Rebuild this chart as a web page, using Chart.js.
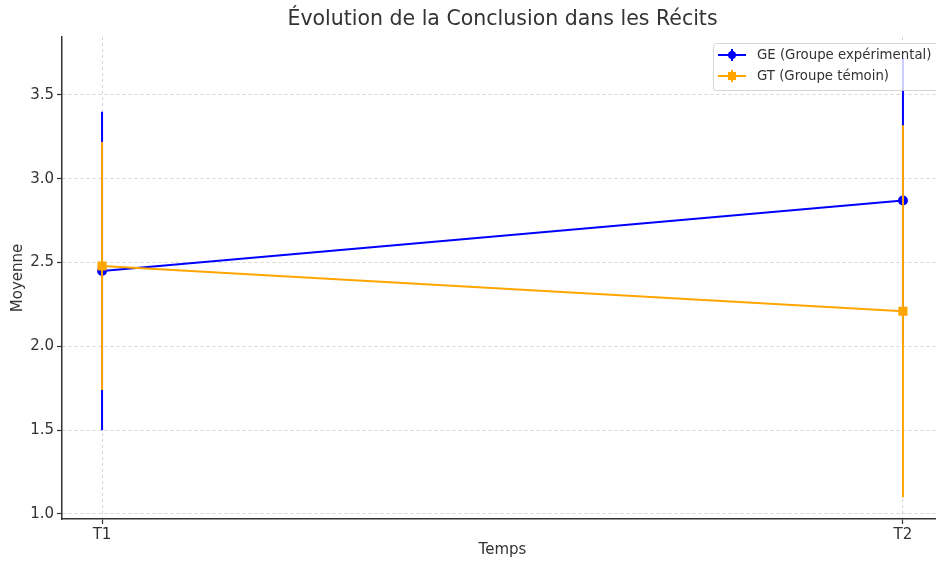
<!DOCTYPE html>
<html>
<head>
<meta charset="utf-8">
<script src="https://cdn.jsdelivr.net/npm/chart.js@4"></script>
<style>
  html, body { margin: 0; padding: 0; background: #fff; overflow: hidden; }
  #box { width: 960px; height: 563px; }
</style>
</head>
<body>
<div id="box"><canvas id="grafica"></canvas></div>
<script>
// données
const temps = ['T1', 'T2'];
const geMoyenne = [2.45, 2.87];
const geErreur = [0.95, 0.85];
const gtMoyenne = [2.48, 2.21];
const gtErreur = [0.74, 1.11];
const yTicks = [1.0, 1.5, 2.0, 2.5, 3.0, 3.5];

const police = "'DejaVu Sans', sans-serif";
const bleu = '#0000ff';
const orange = '#ffa500';

const erreurs = [geErreur, gtErreur];

// barres d'erreur (sous la ligne de chaque série)
const barresErreur = {
    id: 'barresErreur',
    beforeDatasetDraw(chart, args) {
        const ctx = chart.ctx;
        const ds = chart.data.datasets[args.index];
        const err = erreurs[args.index];
        const x = chart.scales.x, y = chart.scales.y;
        ctx.save();
        ctx.strokeStyle = ds.borderColor;
        ctx.lineWidth = 2;
        ds.data.forEach((p, i) => {
            const px = x.getPixelForValue(p.x);
            ctx.beginPath();
            ctx.moveTo(px, y.getPixelForValue(p.y - err[i]));
            ctx.lineTo(px, y.getPixelForValue(p.y + err[i]));
            ctx.stroke();
        });
        ctx.restore();
    }
};

// titre centré sur la zone du graphique + légende
const decor = {
    id: 'decor',
    afterDraw(chart) {
        const ctx = chart.ctx;
        const a = chart.chartArea;
        ctx.save();
        ctx.fillStyle = '#333';
        ctx.font = '20.5px ' + police;
        ctx.textAlign = 'center';
        ctx.textBaseline = 'middle';
        ctx.fillText('Évolution de la Conclusion dans les Récits', (a.left + a.right) / 2, 20);

        // légende
        const bx = 713, by = 43, bw = 240, bh = 47;
        ctx.globalAlpha = 0.8;
        ctx.fillStyle = '#fff';
        ctx.strokeStyle = '#cccccc';
        ctx.lineWidth = 1;
        ctx.beginPath();
        ctx.roundRect(bx + 0.5, by + 0.5, bw, bh, 3);
        ctx.fill();
        ctx.stroke();
        ctx.globalAlpha = 1;
        ctx.font = '13.3px ' + police;
        ctx.textAlign = 'left';
        chart.data.datasets.forEach((ds, i) => {
            const ly = by + 12 + i * 21;
            ctx.strokeStyle = ds.borderColor;
            ctx.fillStyle = ds.borderColor;
            ctx.lineWidth = 2;
            ctx.beginPath();
            ctx.moveTo(718, ly); ctx.lineTo(746, ly);
            ctx.moveTo(732, ly - 6); ctx.lineTo(732, ly + 6);
            ctx.stroke();
            ctx.beginPath();
            if (ds.pointStyle === 'rect') ctx.rect(728, ly - 4, 8, 8);
            else ctx.arc(732, ly, 4, 0, Math.PI * 2);
            ctx.fill();
            ctx.fillStyle = '#333';
            ctx.fillText(ds.label, 757, ly + 1);
        });
        ctx.restore();
    }
};

new Chart(document.getElementById('grafica').getContext('2d'), {
    type: 'line',
    data: {
        datasets: [{
            label: 'GE (Groupe expérimental)',
            data: geMoyenne.map((v, i) => ({ x: i, y: v })),
            borderColor: bleu,
            backgroundColor: bleu,
            borderWidth: 2,
            pointStyle: 'circle',
            pointRadius: 4,
            order: 1
        }, {
            label: 'GT (Groupe témoin)',
            data: gtMoyenne.map((v, i) => ({ x: i, y: v })),
            borderColor: orange,
            backgroundColor: orange,
            borderWidth: 2,
            pointStyle: 'rect',
            pointRadius: 5,
            order: 0
        }]
    },
    options: {
        responsive: true,
        maintainAspectRatio: false,
        animation: false,
        layout: { padding: { top: 37, left: 0, right: 17, bottom: 0 } },
        plugins: {
            legend: { display: false },
            title: { display: false },
            tooltip: { enabled: false }
        },
        scales: {
            x: {
                type: 'linear',
                min: -0.05,
                max: 1.05,
                afterBuildTicks: s => { s.ticks = temps.map((t, i) => ({ value: i })); },
                afterFit: s => { s.height = 44; },
                ticks: {
                    color: '#333',
                    font: { family: police, size: 15 },
                    padding: 2,
                    callback: v => temps[v]
                },
                grid: {
                    color: '#cccccc',
                    lineWidth: 0.8,
                    tickColor: '#333',
                    tickLength: 5,
                    tickBorderDash: [],
                    tickWidth: 1.2
                },
                border: { display: true, color: '#333', width: 1.5, dash: [3, 3] },
                title: {
                    display: true,
                    text: 'Temps',
                    color: '#333',
                    font: { family: police, size: 15 },
                    padding: { top: 2 }
                }
            },
            y: {
                min: 0.97,
                max: 3.846,
                afterBuildTicks: s => { s.ticks = yTicks.map(v => ({ value: v })); },
                afterFit: s => { s.width = 62; },
                ticks: {
                    color: '#333',
                    font: { family: police, size: 15 },
                    padding: 3,
                    callback: v => v.toFixed(1)
                },
                grid: {
                    color: '#cccccc',
                    lineWidth: 0.8,
                    tickColor: '#333',
                    tickLength: 5,
                    tickBorderDash: [],
                    tickWidth: 1.2
                },
                border: { display: true, color: '#333', width: 1.5, dash: [3, 3] },
                title: {
                    display: true,
                    text: 'Moyenne',
                    color: '#333',
                    font: { family: police, size: 15 },
                    padding: { top: 9, bottom: 4 }
                }
            }
        }
    },
    plugins: [barresErreur, decor]
});
</script>
</body>
</html>
